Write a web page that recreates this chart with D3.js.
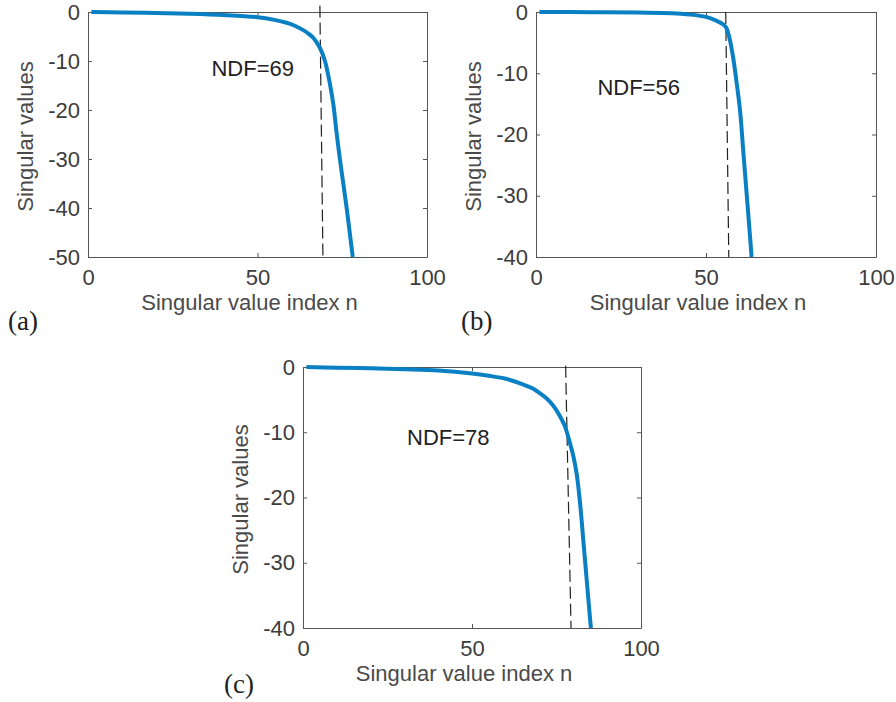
<!DOCTYPE html>
<html>
<head>
<meta charset="utf-8">
<script src="https://cdn.jsdelivr.net/npm/d3@7"></script>
<style>
  body { margin: 0; background: #fff; }
  svg { display: block; }
  .tick text { font-family: "Liberation Sans", Arial, Helvetica, sans-serif; font-size: 22px; fill: #3c3c3c; }
  .axis-label { font-family: "Liberation Sans", Arial, Helvetica, sans-serif; font-size: 22px; fill: #4a4a4a; }
  .ndf { font-family: "Liberation Sans", Arial, Helvetica, sans-serif; font-size: 22px; fill: #222; }
  .panel-tag { font-family: "Liberation Serif", "Times New Roman", serif; font-size: 27px; fill: #222; }
</style>
</head>
<body>
<div class="container"></div>
<script>
// singular value curves
const idxA = [1, 10, 20, 30, 40, 50, 55, 58.6, 61, 63.5, 65, 66.5, 68.4, 69.9, 71.4, 72.4, 73.3, 74.3, 75.3, 76.3, 77.2, 78.1];
const valA = [0, -0.1, -0.2, -0.35, -0.6, -1.05, -1.6, -2.2, -2.8, -3.7, -4.4, -5.3, -7.3, -10, -14.8, -19, -24.5, -30, -35, -40, -45, -50];

const idxB = [1, 10, 20, 30, 40, 45, 50, 53, 55, 56, 57, 58, 59, 60, 61, 62, 63, 63.4];
const valB = [0, -0.02, -0.05, -0.1, -0.2, -0.4, -0.8, -1.4, -2.0, -2.6, -4.5, -7.5, -11.5, -16, -23, -30, -37, -40];

const idxC = [1, 10, 20, 30, 40, 50, 55, 60, 65, 68, 70, 72, 74, 76, 77.5, 79, 80, 81, 82, 83, 84, 85, 85.2];
const valC = [0, -0.1, -0.2, -0.35, -0.55, -1.0, -1.35, -1.8, -2.65, -3.3, -4.0, -4.8, -5.9, -7.5, -9.1, -11.7, -13.7, -16.5, -21, -27, -33, -39, -40];

const ndfValues = [69, 56, 78];
// dashed NDF marker: x at top, x at bottom, y at top
const dashA = [68.4, 69.3, 1.3];
const dashB = [55.8, 56.7, 0];
const dashC = [77.7, 79.3, 0.2];
// NDF text position in data units
const labelPosA = [48.6, -13];
const labelPosB = [30.2, -13.6];
const labelPosC = [43, -11.9];

const xTicks = [0, 50, 100];
const yTicksA = [0, -10, -20, -30, -40, -50];
const yTicks40 = [0, -10, -20, -30, -40];
const tags = ['(a)', '(b)', '(c)'];

const svg = d3.select('div.container').append('svg')
	.attr('width', 896)
	.attr('height', 702);

const panels = [
	{ idx: idxA, val: valA, ndf: ndfValues[0], dash: dashA, lab: labelPosA, yTicks: yTicksA, tag: tags[0],
	  left: 88, top: 12, w: 339, h: 245, tagX: 8, tagY: 330 },
	{ idx: idxB, val: valB, ndf: ndfValues[1], dash: dashB, lab: labelPosB, yTicks: yTicks40, tag: tags[1],
	  left: 536, top: 12, w: 340, h: 245, tagX: 461, tagY: 330 },
	{ idx: idxC, val: valC, ndf: ndfValues[2], dash: dashC, lab: labelPosC, yTicks: yTicks40, tag: tags[2],
	  left: 303, top: 367, w: 338, h: 261, tagX: 224, tagY: 693 }
];

const fmt = d => String(d);

const drawPanel = (p, i) => {
	const g = svg.append('g').attr('transform', `translate(${p.left},${p.top})`);
	const x = d3.scaleLinear().domain([0, 100]).range([0, p.w]);
	const y = d3.scaleLinear().domain([d3.min(p.yTicks), 0]).range([p.h, 0]);

	const styleAxis = sel => {
		sel.select('.domain').attr('stroke', '#555').attr('stroke-width', 1);
		sel.selectAll('.tick line').attr('stroke', '#555');
	};

	g.append('g').attr('transform', `translate(0,${p.h})`)
		.call(d3.axisBottom(x).tickValues(xTicks).tickFormat(fmt).tickSizeInner(-4).tickSizeOuter(0).tickPadding(12))
		.call(styleAxis);
	g.append('g')
		.call(d3.axisLeft(y).tickValues(p.yTicks).tickFormat(fmt).tickSizeInner(-4).tickSizeOuter(0).tickPadding(8))
		.call(styleAxis);
	g.append('g')
		.call(d3.axisTop(x).tickValues(xTicks).tickSizeInner(-4).tickSizeOuter(0).tickFormat(''))
		.call(styleAxis);
	g.append('g').attr('transform', `translate(${p.w},0)`)
		.call(d3.axisRight(y).tickValues(p.yTicks).tickSizeInner(-4).tickSizeOuter(0).tickFormat(''))
		.call(styleAxis);

	g.selectAll('.tick text').attr('fill', null);

	const clipId = 'clip-' + i;
	g.append('clipPath').attr('id', clipId)
		.append('rect').attr('x', -10).attr('y', -10).attr('width', p.w + 20).attr('height', p.h + 10);

	// dashed NDF marker
	g.append('line')
		.attr('x1', x(p.dash[0])).attr('y1', y(p.dash[2]))
		.attr('x2', x(p.dash[1])).attr('y2', y(d3.min(p.yTicks)))
		.attr('stroke', '#222')
		.attr('stroke-width', 1.2)
		.attr('stroke-dasharray', '12,5');

	const pts = p.idx.map((n, k) => [n, p.val[k]]);
	const line = d3.line()
		.x(d => x(d[0]))
		.y(d => y(d[1]))
		.curve(d3.curveCatmullRom.alpha(0.5));
	g.append('path')
		.datum(pts)
		.attr('clip-path', `url(#${clipId})`)
		.attr('d', line)
		.attr('fill', 'none')
		.attr('stroke', '#0a80c4')
		.attr('stroke-width', 4);

	g.append('text')
		.attr('class', 'ndf')
		.attr('x', x(p.lab[0]))
		.attr('y', y(p.lab[1]))
		.attr('text-anchor', 'middle')
		.text('NDF=' + p.ndf);

	g.append('text')
		.attr('class', 'axis-label')
		.attr('x', p.w / 2 - 8)
		.attr('y', p.h + 53)
		.attr('text-anchor', 'middle')
		.text('Singular value index n');

	g.append('text')
		.attr('class', 'axis-label')
		.attr('transform', `translate(-55,${p.h / 2 + 2}) rotate(-90)`)
		.attr('text-anchor', 'middle')
		.text('Singular values');

	svg.append('text')
		.attr('class', 'panel-tag')
		.attr('x', p.tagX)
		.attr('y', p.tagY)
		.text(p.tag);
};

panels.forEach(drawPanel);
</script>
</body>
</html>
